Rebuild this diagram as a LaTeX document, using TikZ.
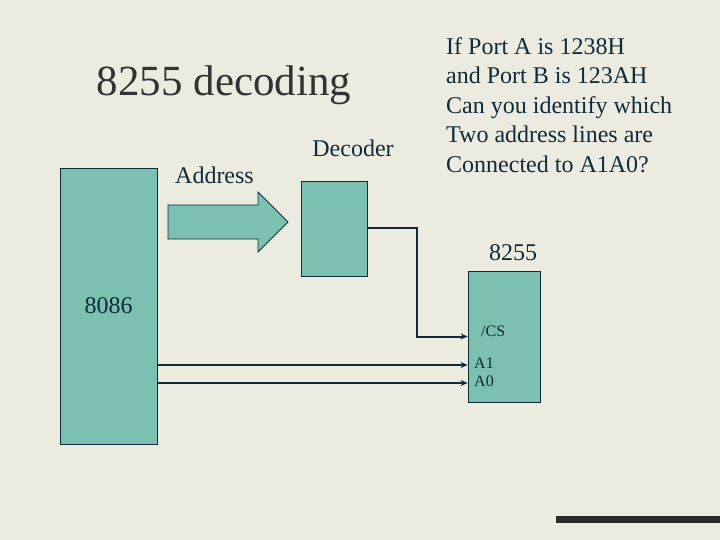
\documentclass[tikz,border=0pt]{standalone}
\usepackage{fontspec}
\setmainfont{Liberation Serif}
\usetikzlibrary{arrows.meta, positioning}

\definecolor{paper}{HTML}{ECEBDF}
\definecolor{chipfill}{HTML}{7BC0B1}
\definecolor{ink}{HTML}{0F2A3A}
\definecolor{titleink}{HTML}{333333}

\begin{document}
\begin{tikzpicture}[
    x=1pt, y=-1pt, >={Stealth[length=7pt,width=6pt]},
    chip/.style={draw=ink, line width=0.8pt, fill=chipfill, inner sep=0pt},
    wire/.style={draw=ink, line width=2pt, ->},
    lbl/.style={text=ink, font=\fontsize{24}{28}\selectfont, inner sep=0pt},
    pin/.style={text=ink, font=\fontsize{16}{19}\selectfont, inner sep=0pt}
  ]
  \fill[paper] (0,0) rectangle (720,540);
  \useasboundingbox (0,0) rectangle (720,540);

  % title and question
  \node[text=titleink, font=\fontsize{43}{46}\selectfont, inner sep=0pt]
    (title) at (224,85) {8255 decoding};
  \node[lbl, anchor=north west, align=left,
        font=\fontsize{24}{29.5}\selectfont] (question) at (446,37)
    {If Port A is 1238H\\and Port B is 123AH\\Can you identify which\\
     Two address lines are\\Connected to A1A0?};

  % chips
  \node[chip, minimum width=97pt, minimum height=276pt] (cpu) at (108.5,306) {};
  \node[lbl] at (cpu) {8086};
  \node[chip, minimum width=66pt, minimum height=95pt] (dec) at (334,228.5) {};
  \node[lbl] (declbl) at (353,148) {Decoder};
  \node[chip, minimum width=72pt, minimum height=131pt] (ppi) at (504,336.5) {};
  \node[lbl] (ppilbl) at (513,253) {8255};

  % address arrow
  \draw[draw=ink, line width=0.8pt, fill=chipfill]
    (168,205) -- (258,205) -- (258,192) -- (288,222) -- (258,252)
    -- (258,239) -- (168,239) -- cycle;
  \node[lbl] (addr) at (214.5,175) {Address};

  % pins
  \coordinate (cs) at (ppi.west);
  \coordinate (a1) at (ppi.west |- 0,365);
  \coordinate (a0) at (ppi.west |- 0,383);
  \node[pin, anchor=west] (cslbl) at (481,331) {/CS};
  \node[pin, anchor=west] (a1lbl) at (474,363) {A1};
  \node[pin, anchor=west] (a0lbl) at (474,381) {A0};

  \draw[wire] (dec.east |- 0,228) -- (417,228) |- (cs);
  \draw[wire] (cpu.east |- a1) -- (a1);
  \draw[wire] (cpu.east |- a0) -- (a0);

  % bottom bar
  \fill[black!83] (556,516) rectangle (720,523);
\end{tikzpicture}
\end{document}
